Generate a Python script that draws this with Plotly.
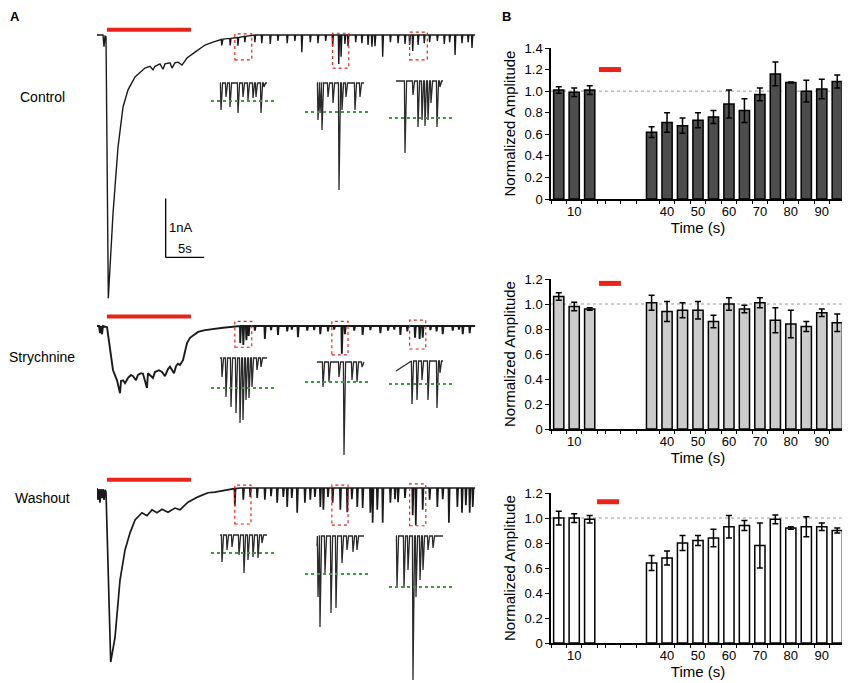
import numpy as np
import plotly.graph_objects as go

# ── Panel B: normalized amplitude per 5 s bin ────────────────────────────────
TIME_BINS = [5, 10, 15, 35, 40, 45, 50, 55, 60, 65, 70, 75, 80, 85, 90, 95]
TIME_TICKS = [10, 40, 50, 60, 70, 80, 90]

CTRL_AMP = [1.01, 0.99, 1.01, 0.62, 0.71, 0.68, 0.73, 0.76, 0.88, 0.82, 0.97, 1.16, 1.08, 1.00, 1.02, 1.09]
CTRL_ERR = [0.03, 0.04, 0.04, 0.05, 0.09, 0.07, 0.07, 0.06, 0.13, 0.11, 0.06, 0.11, 0.005, 0.10, 0.09, 0.06]
STRY_AMP = [1.06, 0.98, 0.96, 1.01, 0.94, 0.95, 0.95, 0.86, 1.00, 0.96, 1.01, 0.87, 0.84, 0.82, 0.93, 0.85]
STRY_ERR = [0.03, 0.035, 0.01, 0.06, 0.08, 0.06, 0.07, 0.05, 0.05, 0.03, 0.04, 0.10, 0.11, 0.04, 0.03, 0.07]
WASH_AMP = [1.00, 1.00, 0.99, 0.64, 0.68, 0.80, 0.82, 0.84, 0.93, 0.94, 0.78, 0.99, 0.92, 0.93, 0.93, 0.90]
WASH_ERR = [0.055, 0.035, 0.03, 0.06, 0.055, 0.06, 0.04, 0.07, 0.09, 0.04, 0.18, 0.035, 0.01, 0.08, 0.03, 0.02]

# ── Panel A: whole-cell traces (time in s, current in nA) ────────────────────
CTRL_ENV_T = [0, 0.78, 0.91, 1.04, 1.17, 1.47, 2.08, 2.73, 3.38, 4.03, 4.94, 6.23, 6.88, 7.27, 7.53, 8.18,
              8.57, 8.83, 9.48, 9.74, 10.13, 10.52, 11.04, 11.69, 12.73, 14.03, 15.06, 16.36, 17.92, 20.2, 49.1]
CTRL_ENV_I = [0, 0, -0.20, -0.02, -0.03, -4.46, -3.02, -1.90, -1.22, -0.93, -0.71, -0.56, -0.53, -0.59, -0.53, -0.49,
              -0.58, -0.49, -0.47, -0.56, -0.47, -0.46, -0.51, -0.39, -0.29, -0.17, -0.12, -0.07, -0.05, 0, 0]
CTRL_SPK_T = [16.2, 17.3, 18.3, 19.2, 20.5, 21.4, 22.5, 23.5, 24.7, 25.7, 26.6, 27.7, 28.7, 29.7, 30.6, 31.4,
              31.7, 32.2, 32.6, 33.6, 34.4, 35.2, 35.7, 36.1, 37.1, 38.1, 39.1, 40.0, 40.6, 41.0, 41.7, 42.5,
              43.2, 44.2, 45.1, 45.8, 46.5, 47.4, 48.2, 48.7]
CTRL_SPK_D = [0.10, 0.12, 0.14, 0.10, 0.12, 0.14, 0.15, 0.10, 0.14, 0.10, 0.29, 0.12, 0.14, 0.10, 0.19, 0.49,
              0.37, 0.15, 0.19, 0.12, 0.14, 0.17, 0.20, 0.19, 0.37, 0.12, 0.14, 0.15, 0.17, 0.27, 0.17, 0.14,
              0.12, 0.10, 0.15, 0.12, 0.34, 0.14, 0.12, 0.22]

STRY_ENV_T = [0, 0.26, 0.39, 0.52, 0.65, 0.78, 1.30, 1.69, 2.08, 2.60, 2.99, 3.12, 3.38, 3.64, 4.03, 4.42,
              4.68, 5.06, 5.32, 5.71, 5.97, 6.49, 6.62, 7.27, 7.53, 8.05, 8.44, 8.83, 9.22, 9.48, 9.74, 10.0,
              10.26, 10.52, 10.78, 11.17, 11.69, 12.08, 13.12, 14.03, 16.36, 18.57, 49.1]
STRY_ENV_I = [0, 0, -0.12, 0, -0.14, 0, -0.02, -0.41, -0.75, -0.92, -1.14, -0.93, -0.92, -0.97, -0.88, -0.83,
              -0.85, -0.92, -0.83, -0.80, -0.81, -1.05, -0.80, -0.88, -0.78, -0.75, -0.78, -0.85, -0.73, -0.69,
              -0.75, -0.80, -0.68, -0.64, -0.66, -0.58, -0.29, -0.20, -0.10, -0.07, -0.03, 0, 0]
STRY_SPK_T = [18.6, 19.0, 19.4, 19.7, 20.5, 21.8, 22.6, 23.5, 24.7, 25.3, 26.1, 27.3, 28.2, 29.0, 30.0, 30.8,
              31.8, 32.2, 33.4, 34.5, 35.5, 36.8, 37.8, 38.6, 39.4, 40.3, 41.3, 41.9, 42.3, 43.3, 44.1, 44.9,
              46.2, 47.0, 47.5, 48.4]
STRY_SPK_D = [0.29, 0.32, 0.24, 0.17, 0.08, 0.22, 0.07, 0.15, 0.09, 0.06, 0.19, 0.08, 0.07, 0.14, 0.09, 0.06,
              0.47, 0.14, 0.08, 0.15, 0.07, 0.12, 0.08, 0.06, 0.15, 0.09, 0.20, 0.22, 0.20, 0.07, 0.09, 0.14,
              0.08, 0.06, 0.14, 0.12]

WASH_ENV_T = [0, 0.13, 0.26, 0.39, 0.52, 0.65, 0.78, 0.91, 1.04, 1.17, 1.78, 2.34, 2.99, 3.64, 4.29, 4.94,
              5.84, 6.49, 7.14, 7.79, 8.44, 9.22, 10.13, 10.78, 11.17, 11.82, 13.12, 14.42, 15.32, 17.27, 18.57, 49.1]
WASH_ENV_I = [0, -0.20, -0.02, -0.25, -0.02, -0.17, -0.02, -0.20, -0.03, -0.07, -2.95, -2.53, -1.56, -1.05, -0.76,
              -0.54, -0.42, -0.47, -0.37, -0.42, -0.36, -0.41, -0.34, -0.37, -0.32, -0.24, -0.15, -0.08, -0.07,
              -0.02, 0, 0]
WASH_SPK_T = [17.9, 19.0, 19.9, 20.8, 21.8, 22.6, 23.4, 24.2, 24.7, 25.3, 26.0, 27.0, 27.7, 28.3, 29.0, 29.4,
              30.0, 30.6, 31.6, 32.5, 33.1, 33.8, 34.5, 35.5, 35.8, 36.4, 37.1, 38.1, 38.7, 39.1, 40.0, 41.0,
              41.4, 42.3, 43.2, 44.2, 44.9, 45.7, 46.8, 47.4, 47.9, 48.4, 48.8]
WASH_SPK_D = [0.29, 0.20, 0.15, 0.17, 0.20, 0.14, 0.25, 0.15, 0.32, 0.17, 0.42, 0.25, 0.20, 0.15, 0.32, 0.37,
              0.15, 0.25, 0.37, 0.41, 0.19, 0.32, 0.34, 0.42, 0.59, 0.37, 0.59, 0.25, 0.19, 0.24, 0.17, 0.46,
              0.63, 0.37, 0.20, 0.32, 0.19, 0.59, 0.32, 0.42, 0.29, 0.42, 0.32]

STIM_ON, STIM_OFF = 1.3, 12.2          # s, agonist application (red bar)

# boxed windows (t0, t1, I top, I bottom) that are expanded in the insets
CTRL_BOX = [(17.9, 20.1, 0.02, -0.42), (30.6, 32.7, 0.03, -0.56), (40.6, 42.9, 0.05, -0.42)]
STRY_BOX = [(17.9, 20.1, 0.08, -0.36), (30.5, 32.6, 0.08, -0.49), (40.6, 42.7, 0.10, -0.39)]
WASH_BOX = [(17.9, 20.0, 0.05, -0.61), (30.5, 32.6, 0.05, -0.63), (40.6, 42.7, 0.07, -0.64)]

# insets: event times (s within window) and amplitudes (pA)
CTRL_INSET_T = [[0.05, 0.30, 0.50, 0.90, 1.15, 1.40, 1.65, 1.80, 2.05, 2.20],
                [0.05, 0.15, 0.25, 0.55, 0.80, 1.10, 1.25, 1.45, 1.90, 2.15],
                [0.45, 0.85, 1.10, 1.30, 1.45, 1.60, 1.75, 2.05, 2.20]]
CTRL_INSET_A = [[-135, -70, -120, -150, -70, -85, -75, -70, -150, -20],
                [-185, -150, -235, -70, -100, -535, -135, -70, -135, -70],
                [-360, -70, -230, -195, -225, -195, -110, -230, -30]]
CTRL_INSET_START = [0, 0, 0]
CTRL_THRESH = [-90, -145, -185]

STRY_INSET_T = [[0.10, 0.30, 0.55, 0.80, 1.00, 1.15, 1.30, 1.45, 1.60, 1.85, 2.05],
                [0.30, 0.60, 1.10, 1.35, 1.75, 2.00, 2.25],
                [0.80, 1.05, 1.30, 1.60, 2.05, 2.20]]
STRY_INSET_A = [[-95, -195, -245, -275, -325, -310, -210, -200, -145, -60, -45],
                [-125, -100, -75, -465, -90, -100, -25],
                [-215, -195, -95, -195, -235, -60]]
STRY_INSET_START = [0, 0, -50]
STRY_THRESH = [-150, -100, -115]

WASH_INSET_T = [[0.10, 0.35, 0.60, 0.95, 1.20, 1.40, 1.65, 1.90, 2.10],
                [0.05, 0.15, 0.40, 0.70, 0.95, 1.25, 1.50, 1.80, 2.00],
                [0.05, 0.40, 0.60, 0.85, 1.00, 1.20, 1.35, 1.60, 1.85]]
WASH_INSET_A = [[-135, -75, -60, -100, -190, -125, -110, -115, -40],
                [-305, -455, -185, -385, -360, -135, -70, -80, -70],
                [-255, -260, -170, -720, -305, -220, -170, -70, -60]]
WASH_INSET_START = [0, -50, 0]
WASH_THRESH = [-90, -190, -255]

# ── Styling / placement ──────────────────────────────────────────────────────
PAGE_W, PAGE_H = 850, 683
BODY = 8                                  # browser default body margin
W, H = PAGE_W - BODY, PAGE_H - BODY
FONT = "Arial, Liberation Sans, Helvetica, sans-serif"
C_RED = "#e8231a"
C_GREEN = "#3d9b3d"
C_TRACE = "#1a1a1a"

PX_PER_S, PX_PER_NA = 7.7, 59.0          # main trace scale
IN_PX_PER_S, IN_PX_PER_PA = 20.0, 0.2    # inset scale
IN_XR, IN_YR = (-0.7, 2.9), (-725, 60)
IN_END = 2.35
IN_COL_X = [220, 317, 396]
IN_THRESH_X = [(-0.45, 2.75), (-0.6, 2.55), (-0.35, 2.85)]


def dom_x(a, b):
    return [(a - BODY) / W, (b - BODY) / W]


def dom_y(top, bottom):
    return [1 - (bottom - BODY) / H, 1 - (top - BODY) / H]


def px_x(a):
    return (a - BODY) / W


def px_y(a):
    return 1 - (a - BODY) / H


def with_spikes(env_t, env_i, spk_t, spk_d, left=0.06, right=0.10):
    t, i = list(env_t), list(env_i)
    for st, sd in zip(spk_t, spk_d):
        base = float(np.interp(st, env_t, env_i))
        t += [st - left, st, st + right]
        i += [base, base - sd, base]
    order = np.argsort(t, kind="stable")
    return np.array(t)[order], np.array(i)[order]


def inset_line(start, spk_t, spk_a, left=0.03, right=0.08):
    t, a = [0.0], [start]
    for st, sa in zip(spk_t, spk_a):
        t += [st - left, st, st + right]
        a += [0, sa, 0]
    t.append(IN_END)
    a.append(0)
    return t, a


fig = go.Figure()
layout = dict(
    template="none",
    width=W, height=H, margin=dict(l=0, r=0, t=0, b=0, pad=0), autosize=False,
    paper_bgcolor="white", plot_bgcolor="rgba(0,0,0,0)",
    showlegend=False, font=dict(family=FONT, color="black", size=13),
)
shapes, annotations = [], []
n_ax = [0]


def new_axes(xdom, ydom, xrange, yrange, xkw=None, ykw=None):
    n_ax[0] += 1
    k = n_ax[0]
    sfx = "" if k == 1 else str(k)
    hidden = dict(visible=False, showgrid=False, zeroline=False, fixedrange=True, automargin=False)
    xa = dict(hidden, domain=xdom, range=list(xrange), anchor="y" + sfx)
    ya = dict(hidden, domain=ydom, range=list(yrange), anchor="x" + sfx)
    if xkw:
        xa.update(xkw)
    if ykw:
        ya.update(ykw)
    layout["xaxis" + sfx] = xa
    layout["yaxis" + sfx] = ya
    return "x" + sfx, "y" + sfx


# ── Panel B bar charts ───────────────────────────────────────────────────────
bar_panels = [
    (CTRL_AMP, CTRL_ERR, "#4d4d4d", 48, 199, 1.4, 1.20, (18.0, 25.1)),
    (STRY_AMP, STRY_ERR, "#cccccc", 279, 429, 1.2, 1.165, (18.0, 25.1)),
    (WASH_AMP, WASH_ERR, "#ffffff", 493, 643, 1.2, 1.13, (17.4, 24.5)),
]
for amp, err, color, top, bottom, ymax, red_y, red_x in bar_panels:
    yt = [round(0.2 * k, 1) for k in range(int(round(ymax / 0.2)) + 1)]
    xkw = dict(
        visible=True, showline=True, linecolor="black", linewidth=1.5,
        tickmode="array", tickvals=TIME_TICKS, ticks="", tickfont=dict(size=13),
        minor=dict(tickmode="array", tickvals=[b + 2.5 for b in [0] + TIME_BINS[:-1]] + [20, 25, 30],
                   ticks="outside", ticklen=3, tickcolor="black", showgrid=False),
        title=dict(text="Time (s)", font=dict(size=15), standoff=1),
    )
    ykw = dict(
        visible=True, showline=True, linecolor="black", linewidth=1.5,
        tickmode="array", tickvals=yt, ticktext=["0"] + [f"{v:.1f}" for v in yt[1:]],
        ticks="outside", ticklen=4, tickcolor="black", tickfont=dict(size=13),
        title=dict(text="Normalized Amplitude", font=dict(size=15), standoff=5),
    )
    xr, yr = new_axes(dom_x(551, 845), dom_y(top, bottom), (2.5, 97.5), (0, ymax), xkw, ykw)
    shapes.append(dict(type="line", xref=xr, yref=yr, x0=2.5, x1=97.5, y0=1.0, y1=1.0,
                       line=dict(color="#9a9a9a", width=1, dash="dot"), layer="below"))
    fig.add_trace(go.Bar(
        x=TIME_BINS, y=amp, width=3.3, xaxis=xr, yaxis=yr,
        marker=dict(color=color, line=dict(color="black", width=1.5)),
        error_y=dict(type="data", array=err, color="black", thickness=1.5, width=3),
    ))
    shapes.append(dict(type="line", xref=xr, yref=yr, x0=red_x[0], x1=red_x[1], y0=red_y, y1=red_y,
                       line=dict(color=C_RED, width=5)))

# ── Panel A traces ───────────────────────────────────────────────────────────
rows = [
    ("Control", 35, 22, 305, 97, 0.09, 1.4, CTRL_ENV_T, CTRL_ENV_I, CTRL_SPK_T, CTRL_SPK_D, CTRL_BOX,
     [83, 83, 81], CTRL_INSET_T, CTRL_INSET_A, CTRL_INSET_START, CTRL_THRESH),
    ("Strychnine", 326, 305, 470, 357, 0.16, 1.9, STRY_ENV_T, STRY_ENV_I, STRY_SPK_T, STRY_SPK_D, STRY_BOX,
     [358, 362, 361], STRY_INSET_T, STRY_INSET_A, STRY_INSET_START, STRY_THRESH),
    ("Washout", 488, 472, 680, 498, 0.14, 1.7, WASH_ENV_T, WASH_ENV_I, WASH_SPK_T, WASH_SPK_D, WASH_BOX,
     [535, 536, 536], WASH_INSET_T, WASH_INSET_A, WASH_INSET_START, WASH_THRESH),
]
X0_PX, X1_PX = 97, 480
for (label, base, top, bottom, label_y, stim_y, lw, env_t, env_i, spk_t, spk_d, boxes,
     in_base, in_t, in_a, in_start, thresh) in rows:
    yrange = (-(bottom - base) / PX_PER_NA, (base - top) / PX_PER_NA)
    xr, yr = new_axes(dom_x(X0_PX, X1_PX), dom_y(top, bottom), (0, (X1_PX - X0_PX) / PX_PER_S), yrange)
    t, i = with_spikes(env_t, env_i, spk_t, spk_d)
    fig.add_trace(go.Scatter(x=t, y=i, mode="lines", xaxis=xr, yaxis=yr,
                             line=dict(color=C_TRACE, width=lw), hoverinfo="skip"))
    shapes.append(dict(type="line", xref=xr, yref=yr, x0=STIM_ON, x1=STIM_OFF, y0=stim_y, y1=stim_y,
                       line=dict(color=C_RED, width=4)))
    for b0, b1, bt, bb in boxes:
        shapes.append(dict(type="rect", xref=xr, yref=yr, x0=b0, x1=b1, y0=bb, y1=bt,
                           line=dict(color=C_RED, width=1.2, dash="dot")))
    annotations.append(dict(text=label, x=px_x(42), y=px_y(label_y), xref="paper", yref="paper",
                            showarrow=False, font=dict(size=14), xanchor="center", yanchor="middle"))

    if label == "Control":
        # scale bar: 1 nA, 5 s
        sx, sy = 8.92, -3.77
        shapes.append(dict(type="line", xref=xr, yref=yr, x0=sx, x1=sx, y0=sy, y1=sy + 1.0,
                           line=dict(color="black", width=1.3)))
        shapes.append(dict(type="line", xref=xr, yref=yr, x0=sx, x1=sx + 5.0, y0=sy, y1=sy,
                           line=dict(color="black", width=1.3)))
        annotations.append(dict(text="1nA", x=sx + 0.2, y=-3.27, xref=xr, yref=yr, showarrow=False,
                                xanchor="left", yanchor="middle", font=dict(size=13)))
        annotations.append(dict(text="5s", x=11.4, y=-3.62, xref=xr, yref=yr, showarrow=False,
                                xanchor="center", yanchor="middle", font=dict(size=13)))

    # expanded insets
    for c in range(3):
        ax_px, b_px = IN_COL_X[c], in_base[c]
        xd = dom_x(ax_px + IN_XR[0] * IN_PX_PER_S, ax_px + IN_XR[1] * IN_PX_PER_S)
        yd = dom_y(b_px - IN_YR[1] * IN_PX_PER_PA, b_px - IN_YR[0] * IN_PX_PER_PA)
        ixr, iyr = new_axes(xd, yd, IN_XR, IN_YR)
        it, ia = inset_line(in_start[c], in_t[c], in_a[c])
        fig.add_trace(go.Scatter(x=it, y=ia, mode="lines", xaxis=ixr, yaxis=iyr,
                                 line=dict(color="#2a2a2a", width=1.3), hoverinfo="skip"))
        tx0, tx1 = IN_THRESH_X[c]
        shapes.append(dict(type="line", xref=ixr, yref=iyr, x0=tx0, x1=tx1, y0=thresh[c], y1=thresh[c],
                           line=dict(color=C_GREEN, width=2, dash="dot")))

# panel letters
annotations.append(dict(text="<b>A</b>", x=px_x(15), y=px_y(16), xref="paper", yref="paper",
                        showarrow=False, font=dict(size=13), xanchor="center", yanchor="middle"))
annotations.append(dict(text="<b>B</b>", x=px_x(506), y=px_y(16), xref="paper", yref="paper",
                        showarrow=False, font=dict(size=13), xanchor="center", yanchor="middle"))

layout["shapes"] = shapes
layout["annotations"] = annotations
fig.update_layout(**layout)
fig.write_html("out.html")
